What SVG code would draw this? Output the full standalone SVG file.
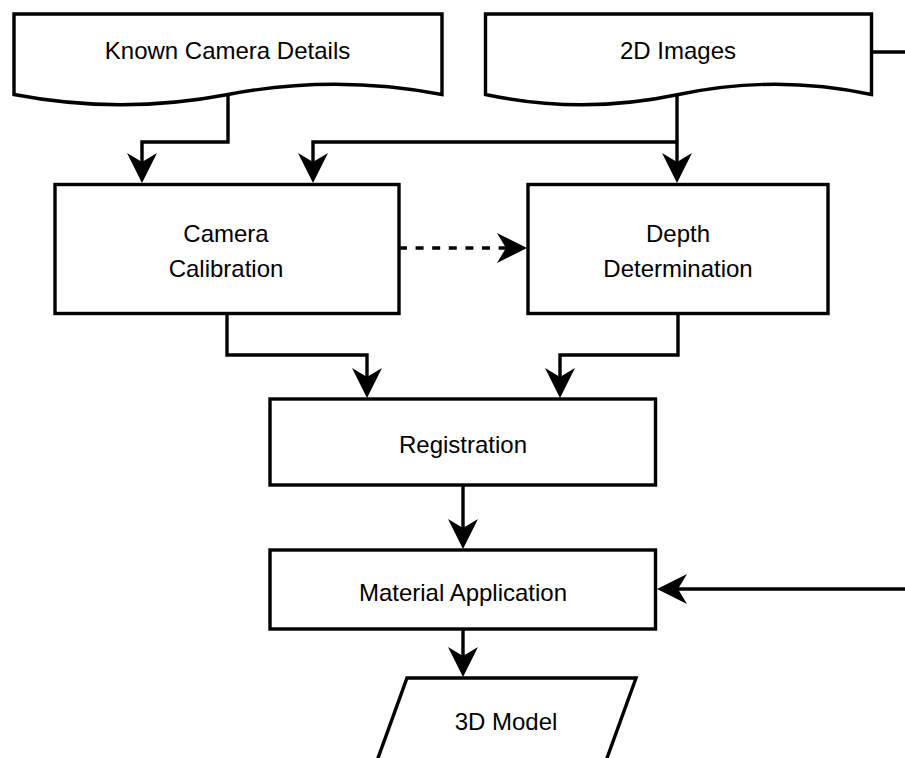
<svg xmlns="http://www.w3.org/2000/svg" width="905" height="758" viewBox="0 0 905 758">
  <style>
    .shape { fill: #ffffff; stroke: #000000; stroke-width: 3.4; stroke-linejoin: miter; }
    .label { font-family: "Liberation Sans", Arial, sans-serif; font-size: 24px; fill: #000000; text-anchor: middle; }
    .edge { fill: none; stroke: #000000; stroke-width: 3.4; stroke-linejoin: miter; }
    .dashed { stroke-dasharray: 8 8.6; }
  </style>
  <defs>
    <marker id="arrow" markerUnits="userSpaceOnUse" markerWidth="32" markerHeight="32" viewBox="0 0 32 32" refX="9" refY="15" orient="auto" overflow="visible">
      <path d="M0,0 L30,15 L0,30 L9,15 Z" fill="#000000" stroke="none"/>
    </marker>
  </defs>
  <rect width="905" height="758" fill="#ffffff"/>

  <g id="connectors">
    <path class="edge" d="M228,94 V142 H142 V162" marker-end="url(#arrow)"/>
    <path class="edge" d="M677,142 H313 V162" marker-end="url(#arrow)"/>
    <path class="edge" d="M677,94 V162" marker-end="url(#arrow)"/>
    <path class="edge dashed" d="M399,248 H506" marker-end="url(#arrow)"/>
    <path class="edge" d="M227,313 V355 H367 V377" marker-end="url(#arrow)"/>
    <path class="edge" d="M678,313 V355 H560 V377" marker-end="url(#arrow)"/>
    <path class="edge" d="M463,485 V528" marker-end="url(#arrow)"/>
    <path class="edge" d="M463,629 V656" marker-end="url(#arrow)"/>
    <path class="edge" d="M872,52 H910"/>
    <path class="edge" d="M910,589 H678" marker-end="url(#arrow)"/>
  </g>

  <g id="known-camera-details">
    <path class="shape" d="M14,14 H442 V94.5 Q335,74 228,94.5 Q121,115 14,94.5 Z"/>
    <text class="label" x="227.5" y="59.3">Known Camera Details</text>
  </g>

  <g id="images-2d">
    <path class="shape" d="M485.5,14 H871.5 V94.5 Q775,74 678.5,94.5 Q582,115 485.5,94.5 Z"/>
    <text class="label" x="678" y="59.3">2D Images</text>
  </g>

  <g id="camera-calibration">
    <rect class="shape" x="55" y="184.5" width="344" height="129"/>
    <text class="label" x="226" y="241.7">Camera</text>
    <text class="label" x="226" y="276.7">Calibration</text>
  </g>

  <g id="depth-determination">
    <rect class="shape" x="528" y="184.5" width="300" height="129"/>
    <text class="label" x="678" y="241.7">Depth</text>
    <text class="label" x="678" y="276.7">Determination</text>
  </g>

  <g id="registration">
    <rect class="shape" x="270" y="399" width="385.5" height="86"/>
    <text class="label" x="463" y="453.3">Registration</text>
  </g>

  <g id="material-application">
    <rect class="shape" x="270" y="550" width="385.5" height="79"/>
    <text class="label" x="463" y="600.7">Material Application</text>
  </g>

  <g id="model-3d">
    <path class="shape" d="M407,678 H636 L606.3,760 H377.3 Z"/>
    <text class="label" x="506" y="730">3D Model</text>
  </g>
</svg>
